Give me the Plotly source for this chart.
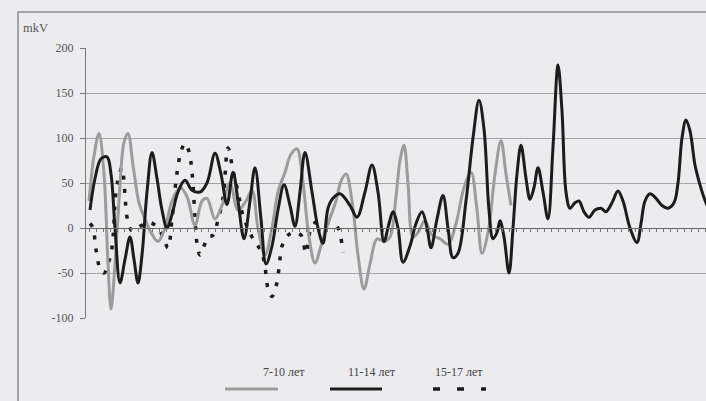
import plotly.graph_objects as go

# ---- data (sample number, amplitude in mkV) ----
t_11_14 = [4, 9, 15, 21, 25, 29, 34, 39, 44, 48, 52, 56, 61, 66, 71, 76, 81, 86, 92, 99,
           106, 114, 121, 129, 135, 141, 147, 152, 158, 164, 169, 175, 180, 186, 192, 198,
           204, 209, 214, 219, 226, 232, 237, 242, 247, 254, 264, 271, 279, 286, 292, 298,
           303, 307, 312, 317, 324, 330, 336, 341, 345, 351, 357, 362, 367, 372, 380, 387,
           393, 398, 403, 407, 411, 414, 418, 423, 427, 431, 435, 440, 444, 448, 452, 457,
           462, 467, 472, 476, 480, 484, 489, 493, 498, 503, 509, 515, 520, 526, 532, 537,
           544, 551, 555, 559, 564, 570, 576, 582, 588, 592, 596, 600, 604, 609, 614, 620, 626]
v_11_14 = [20, 55, 77, 79, 60, 0, -61, -35, -10, -35, -61, -30, 40, 84, 55, 20, 0, 15, 40, 53,
           42, 40, 50, 83, 60, 26, 62, 30, -12, 30, 67, 10, -40, -20, 20, 48,
           25, 2, 40, 84, 40, 0, -17, 22, 33, 38, 25, 12, 40, 70, 40, -15,
           5, 18, 0, -38, -20, 5, 18, 0, -22, 10, 36, 0, -33, -28, 30, 100,
           142, 110, 20, -12, -5, 8, -10, -50, 0, 60, 92, 55, 32, 45, 67, 40,
           10, 90, 181, 130, 40, 22, 28, 30, 18, 12, 20, 22, 18, 28, 41, 30,
           0, -16, 5, 30, 38, 33, 25, 22, 28, 50, 100, 120, 108, 70, 48, 28, 15]

t_7_10 = [3, 8, 13, 18, 22, 25, 29, 33, 38, 42, 47, 53, 59, 65, 72, 79, 86, 94, 101, 109,
          116, 121, 129, 136, 144, 152, 160, 166, 172, 179, 186, 192, 199, 205, 211, 216,
          223, 229, 235, 242, 250, 255, 260, 266, 272, 278, 284, 291, 298, 304, 310, 314,
          318, 322, 327, 332, 339, 346, 354, 362, 370, 378, 385, 391, 396, 402, 409, 415,
          420, 425]
v_7_10 = [30, 80, 105, 60, -40, -90, -40, 30, 95, 105, 70, 28, 10, -5, -15, 0, 30, 45, 35, 3,
          30, 33, 10, 25, 50, 20, 30, 42, 0, -30, 0, 40, 62, 82, 88, 60,
          -10, -39, -20, 5, 30, 52, 60, 30, -30, -68, -40, -12, -15, -10, 35, 75,
          92, 50, -10, -5, 8, -8, -12, -18, 5, 45, 62, 20, -28, -5, 60, 97,
          60, 25]

t_15_17 = [4, 7, 10, 14, 18, 22, 26, 30, 34, 36, 39, 41, 46, 54, 64, 72, 77, 82, 86, 91,
           95, 99, 103, 106, 109, 111, 114, 118, 122, 127, 132, 137, 142, 147, 152, 157,
           166, 172, 176, 179, 182, 186, 190, 193, 196, 202, 209, 215, 220, 225, 232, 240,
           247, 252, 257]
v_15_17 = [5, 0, -24, -45, -50, -40, -22, 40, 62, 67, 37, 12, -3, 2, 6, 0, -10, -22, 10, 61,
           85, 94, 85, 62, 12, -17, -30, -20, -10, -8, 9, 33, 89, 64, 40, 14,
           -10, -20, -28, -43, -67, -76, -65, -45, -20, -8, -5, -8, -28, 0, 8, 6,
           5, 0, -27]

series_names = ["7-10 лет", "11-14 лет", "15-17 лет"]
y_ticks = [-100, -50, 0, 50, 100, 150, 200]
y_tick_text = ["-100", "-50", "0", "50", "100", "150", "200"]

SERIF = "Liberation Serif, Times New Roman, serif"
BG = "#ececef"
GRAY = "#9c9c9c"
BLACK = "#1c1c1c"

fig = go.Figure()
fig.add_trace(go.Scatter(x=t_15_17, y=v_15_17, mode="lines", name=series_names[2],
                         line=dict(color=BLACK, width=3.5, shape="spline", smoothing=1.0,
                                   dash="4px,9px")))
fig.add_trace(go.Scatter(x=t_7_10, y=v_7_10, mode="lines", name=series_names[0],
                         line=dict(color=GRAY, width=3, shape="spline", smoothing=1.0)))
fig.add_trace(go.Scatter(x=t_11_14, y=v_11_14, mode="lines", name=series_names[1],
                         line=dict(color=BLACK, width=3, shape="spline", smoothing=1.0)))

fig.update_layout(
    width=706, height=401,
    margin=dict(l=86, r=0, t=48, b=83),
    paper_bgcolor=BG, plot_bgcolor=BG,
    showlegend=False,
    font=dict(family=SERIF, size=11, color="#444"),
    xaxis=dict(range=[0, 620], showgrid=False, zeroline=False, showline=True,
               linecolor="#666", linewidth=1.2, anchor="free", position=1/3,
               ticks="outside", ticklen=3, tickcolor="#777", dtick=7, tick0=3,
               showticklabels=False),
    yaxis=dict(range=[-100, 200], tickvals=y_ticks, ticktext=y_tick_text,
               showgrid=True, gridcolor="#a4a4a8", gridwidth=1.3, zeroline=False,
               showline=True, linecolor="#777", linewidth=1.3,
               ticks="outside", ticklen=5, tickcolor="#777", ticklabelstandoff=4,
               tickfont=dict(family=SERIF, size=12, color="#555")),
)

def px_x(p):
    return (p - 86) / 620

def px_y(p):
    return (318 - p) / 270

# outer frame
fig.add_shape(type="rect", xref="paper", yref="paper",
              x0=px_x(18), x1=1.1, y0=px_y(420), y1=px_y(12),
              line=dict(color="#8c8c8f", width=1.5), layer="below")

# unit label
fig.add_annotation(text="mkV", xref="paper", yref="paper", x=px_x(21), y=px_y(28),
                   xanchor="left", yanchor="middle", showarrow=False,
                   font=dict(family=SERIF, size=12.5, color="#555"))

# legend
leg_text_x = [284, 372, 459]
for name, cx in zip(series_names, leg_text_x):
    fig.add_annotation(text=name, xref="paper", yref="paper", x=px_x(cx), y=px_y(372),
                       xanchor="center", yanchor="middle", showarrow=False,
                       font=dict(family=SERIF, size=12, color="#444"))
fig.add_shape(type="line", xref="paper", yref="paper", x0=px_x(225), x1=px_x(278),
              y0=px_y(389), y1=px_y(389), line=dict(color=GRAY, width=3))
fig.add_shape(type="line", xref="paper", yref="paper", x0=px_x(330), x1=px_x(382),
              y0=px_y(389), y1=px_y(389), line=dict(color=BLACK, width=3))
fig.add_shape(type="line", xref="paper", yref="paper", x0=px_x(433), x1=px_x(486),
              y0=px_y(389), y1=px_y(389), line=dict(color=BLACK, width=3.5, dash="7px,17px"))

fig.write_html("out.html", config={"displayModeBar": False},
               post_script="document.body.style.margin='0';document.body.style.overflow='hidden';")
